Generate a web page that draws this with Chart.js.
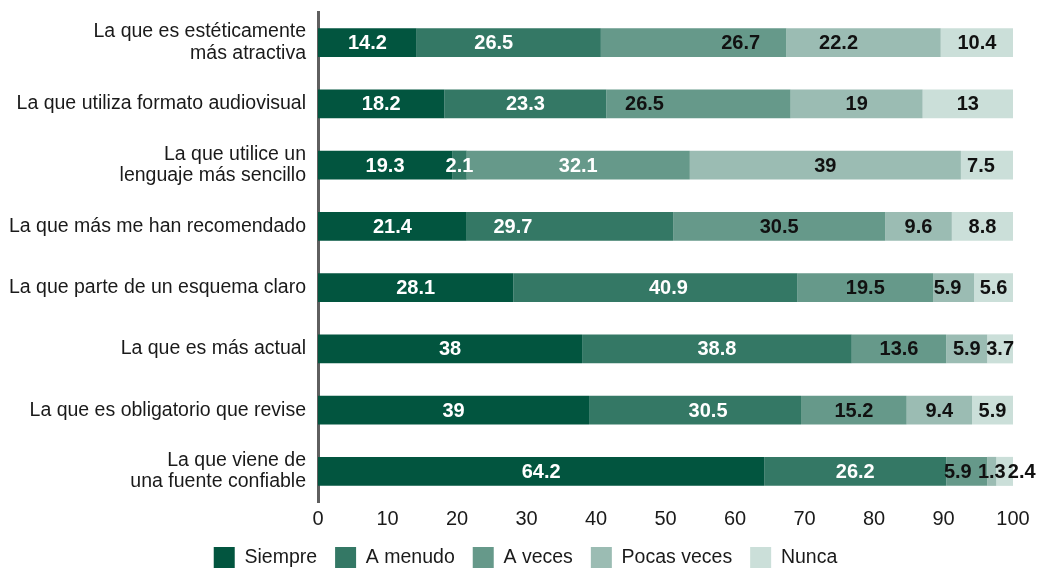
<!DOCTYPE html>
<html lang="es">
<head>
<meta charset="utf-8">
<title>Preferencias al elegir una fuente de información</title>
<script src="https://cdn.jsdelivr.net/npm/chart.js@4/dist/chart.umd.min.js"></script>
<style>
  html, body { margin: 0; padding: 0; background: #ffffff; }
  #wrap { width: 1043px; height: 570px; position: relative; }
</style>
</head>
<body>
<div id="wrap"><canvas id="chart"></canvas></div>
<script>
// Categories (multi-line labels are arrays of lines)
const categories = [
  ['La que es estéticamente', 'más atractiva'],
  'La que utiliza formato audiovisual',
  ['La que utilice un', 'lenguaje más sencillo'],
  'La que más me han recomendado',
  'La que parte de un esquema claro',
  'La que es más actual',
  'La que es obligatorio que revise',
  ['La que viene de', 'una fuente confiable']
];

const seriesNames = ['Siempre', 'A menudo', 'A veces', 'Pocas veces', 'Nunca'];

// Percentages per answer, one value per category
const siempre    = [14.2, 18.2, 19.3, 21.4, 28.1, 38,   39,   64.2];
const aMenudo    = [26.5, 23.3, 2.1,  29.7, 40.9, 38.8, 30.5, 26.2];
const aVeces     = [26.7, 26.5, 32.1, 30.5, 19.5, 13.6, 15.2, 5.9];
const pocasVeces = [22.2, 19,   39,   9.6,  5.9,  5.9,  9.4,  1.3];
const nunca      = [10.4, 13,   7.5,  8.8,  5.6,  3.7,  5.9,  2.4];

const xTickValues = [0, 10, 20, 30, 40, 50, 60, 70, 80, 90, 100];

// Styling
const FONT = "'Liberation Sans', Arial, Helvetica, sans-serif";
const TEXT = '#1a1a1a';
const colors = ['#02553f', '#347865', '#66998a', '#9bbcb3', '#cbdfd9'];
const DARK = '#111111', LIGHT = '#ffffff';
const labelColors = [
  LIGHT,
  LIGHT,
  [DARK, DARK, LIGHT, DARK, DARK, DARK, DARK, DARK],
  DARK,
  DARK
];
// Horizontal nudges (px) for a few value labels, keyed "row-series"
const labelNudge = {
  '0-1': -15, '0-2': 47, '0-3': -25,
  '1-2': -54,
  '2-4': -6,
  '3-1': -57,
  '4-1': 13, '4-3': -6,
  '6-1': 13,
  '7-2': -9, '7-4': 17
};

const seriesValues = [siempre, aMenudo, aVeces, pocasVeces, nunca];

const datasets = seriesNames.map((name, i) => ({
  label: name,
  data: seriesValues[i],
  backgroundColor: colors[i],
  borderWidth: 0,
  barPercentage: 0.473,
  categoryPercentage: 1.0
}));

// Draws each segment's value inside its bar
const valueLabels = {
  id: 'valueLabels',
  afterDatasetsDraw(chart) {
    const ctx = chart.ctx;
    ctx.save();
    ctx.font = 'bold 20px ' + FONT;
    ctx.textAlign = 'center';
    ctx.textBaseline = 'middle';
    chart.data.datasets.forEach((ds, di) => {
      const meta = chart.getDatasetMeta(di);
      if (meta.hidden) return;
      meta.data.forEach((bar, row) => {
        const v = ds.data[row];
        if (v == null) return;
        const c = labelColors[di];
        ctx.fillStyle = Array.isArray(c) ? c[row] : c;
        const dx = labelNudge[row + '-' + di] || 0;
        const cx = (bar.x + bar.base) / 2 + dx;
        ctx.fillText(String(v), cx, bar.y + 1);
      });
    });
    ctx.restore();
  }
};

new Chart(document.getElementById('chart'), {
  type: 'bar',
  data: { labels: categories, datasets },
  options: {
    indexAxis: 'y',
    responsive: true,
    maintainAspectRatio: false,
    animation: false,
    devicePixelRatio: 1,
    layout: { padding: { top: 12, right: 0, left: 8, bottom: 0 } },
    scales: {
      x: {
        stacked: true,
        min: 0,
        max: 100,
        afterBuildTicks(scale) {
          scale.ticks = xTickValues.map(v => ({ value: v }));
        },
        afterFit(scale) {
          scale.height = 27;
          scale.paddingLeft = 0;
          scale.paddingRight = 0;
        },
        grid: { display: false, drawTicks: false },
        border: { display: false },
        ticks: {
          font: { family: FONT, size: 20 },
          color: TEXT,
          padding: 5,
          maxRotation: 0
        }
      },
      y: {
        stacked: true,
        z: 1,
        afterFit(scale) {
          scale.width = 310;
          scale.paddingTop = 0;
          scale.paddingBottom = 0;
        },
        grid: { display: false, drawTicks: false },
        border: { display: true, color: '#5f5f5f', width: 3 },
        ticks: {
          font: { family: FONT, size: 19.5, lineHeight: 1.08 },
          color: TEXT,
          padding: 12,
          autoSkip: false
        }
      },
      // empty right-hand gutter beside the bars
      gutter: {
        axis: 'y',
        type: 'linear',
        position: 'right',
        display: true,
        afterFit(scale) {
          scale.width = 30;
          scale.paddingTop = 0;
          scale.paddingBottom = 0;
        },
        grid: { display: false, drawTicks: false },
        border: { display: false },
        ticks: { display: false }
      }
    },
    plugins: {
      legend: {
        position: 'bottom',
        maxHeight: 41,
        labels: {
          boxWidth: 21,
          boxHeight: 21,
          padding: 18,
          color: TEXT,
          font: { family: FONT, size: 19.5 }
        }
      },
      tooltip: { enabled: false }
    }
  },
  plugins: [valueLabels]
});
</script>
</body>
</html>
